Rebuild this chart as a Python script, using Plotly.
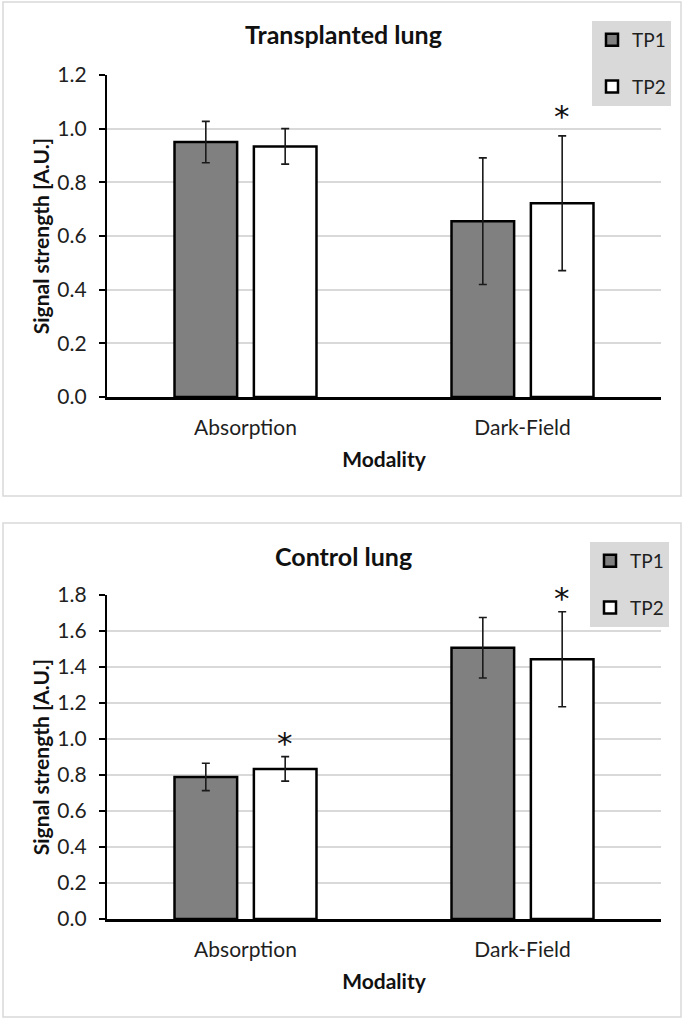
import plotly.graph_objects as go

# ---------------- data ----------------
categories = ["Absorption", "Dark-Field"]
series_names = ["TP1", "TP2"]

transplanted_title = "Transplanted lung"
transplanted_tp1 = [0.950, 0.655]
transplanted_tp1_err = [0.077, 0.236]
transplanted_tp2 = [0.934, 0.722]
transplanted_tp2_err = [0.066, 0.251]
transplanted_star_cat = ["Dark-Field"]
transplanted_star_y = [1.058]

control_title = "Control lung"
control_tp1 = [0.789, 1.507]
control_tp1_err = [0.076, 0.168]
control_tp2 = [0.834, 1.443]
control_tp2_err = [0.068, 0.264]
control_star_cat = ["Absorption", "Dark-Field"]
control_star_y = [0.994, 1.800]

top_yticks = [0.0, 0.2, 0.4, 0.6, 0.8, 1.0, 1.2]
bottom_yticks = [0.0, 0.2, 0.4, 0.6, 0.8, 1.0, 1.2, 1.4, 1.6, 1.8]

x_title = "Modality"
y_title = "Signal strength [A.U.]"

# ---------------- style ----------------
W, H = 685, 1021
FONT = "Lato"
TXT = "#1f1f1f"
GRID = "#d9d9d9"
fills = ["#808080", "#ffffff"]

BARGAP = 0.427
BARGROUPGAP = 0.211

def px_x(p):
    return p / W

def px_y(p):
    return 1 - p / H

x_dom = [px_x(107), px_x(661)]
top_dom = [px_y(397), px_y(75)]
bot_dom = [px_y(919), px_y(595)]

fig = go.Figure()

panels = [
    dict(x="x", y="y", legend="legend",
         vals=[transplanted_tp1, transplanted_tp2],
         errs=[transplanted_tp1_err, transplanted_tp2_err]),
    dict(x="x2", y="y2", legend="legend2",
         vals=[control_tp1, control_tp2],
         errs=[control_tp1_err, control_tp2_err]),
]

for p in panels:
    for i, name in enumerate(series_names):
        fig.add_trace(go.Bar(
            x=categories, y=p["vals"][i], name=name,
            xaxis=p["x"], yaxis=p["y"], legend=p["legend"],
            legendgroup=p["legend"] + name,
            marker=dict(color=fills[i], line=dict(color="black", width=2.5)),
            error_y=dict(type="data", array=p["errs"][i], visible=True,
                         color="#1a1a1a", thickness=1.6, width=4),
        ))

cat_px = (661 - 107) / len(categories)
slot_px = cat_px * (1 - BARGAP) / 2
tp2_shift = slot_px / 2

annotations = []
for cats, ys, xr, yr in [(transplanted_star_cat, transplanted_star_y, "x", "y"),
                         (control_star_cat, control_star_y, "x2", "y2")]:
    for c, yv in zip(cats, ys):
        annotations.append(dict(
            x=c, y=yv, xref=xr, yref=yr, text="*", showarrow=False,
            xshift=tp2_shift, yshift=-3, xanchor="center", yanchor="middle",
            font=dict(family="DejaVu Sans", size=31, color="#111111"),
        ))

for t, ypix in [(transplanted_title, 34), (control_title, 556)]:
    annotations.append(dict(
        x=343 / W, y=px_y(ypix), xref="paper", yref="paper", text="<b>%s</b>" % t,
        showarrow=False, xanchor="center", yanchor="middle",
        font=dict(family=FONT, size=25, color="#111111"),
    ))

shapes = []
for (t, b) in [(2, 496), (523, 1017)]:
    shapes.append(dict(type="rect", xref="paper", yref="paper",
                       x0=px_x(3), x1=px_x(681), y0=px_y(b), y1=px_y(t),
                       line=dict(color=GRID, width=1.5), fillcolor="rgba(0,0,0,0)",
                       layer="below"))

def xaxis(anchor):
    return dict(domain=x_dom, anchor=anchor, showgrid=False, ticks="",
                showline=True, linecolor="black", linewidth=2.5,
                tickfont=dict(family=FONT, size=21, color=TXT),
                ticklabelstandoff=10, automargin=False,
                title=dict(text="<b>%s</b>" % x_title, standoff=15,
                           font=dict(family=FONT, size=21, color="#111111")),
                fixedrange=True)

def yaxis(anchor, dom, ticks):
    return dict(domain=dom, anchor=anchor, range=[ticks[0], ticks[-1]],
                tickvals=ticks, ticktext=["%.1f" % v for v in ticks],
                showgrid=True, gridcolor=GRID, gridwidth=1.5,
                showline=True, linecolor="black", linewidth=2.2,
                ticks="outside", ticklen=6, tickwidth=2, tickcolor="black",
                tickfont=dict(family=FONT, size=21, color=TXT),
                ticklabelstandoff=8, zeroline=False, automargin=False,
                title=dict(text="<b>%s</b>" % y_title, standoff=2,
                           font=dict(family=FONT, size=21, color="#111111")),
                fixedrange=True)

legend_style = dict(xanchor="left", yanchor="top", bgcolor="#d9d9d9",
                    borderwidth=0, font=dict(family=FONT, size=19, color=TXT),
                    tracegroupgap=19, itemwidth=30, traceorder="grouped")

fig.update_layout(
    width=W, height=H, margin=dict(l=0, r=0, t=0, b=0, pad=0, autoexpand=False),
    paper_bgcolor="white", plot_bgcolor="white",
    barmode="group", bargap=BARGAP, bargroupgap=BARGROUPGAP,
    xaxis=xaxis("y"), yaxis=yaxis("x", top_dom, top_yticks),
    xaxis2=xaxis("y2"), yaxis2=yaxis("x2", bot_dom, bottom_yticks),
    legend=dict(x=px_x(592), y=px_y(21), **legend_style),
    legend2=dict(x=px_x(590), y=px_y(542), **legend_style),
    annotations=annotations, shapes=shapes, showlegend=True,
)

fig.write_html("out.html", config={"displayModeBar": False},
               post_script="document.body.style.margin='0';document.body.style.overflow='hidden';")
